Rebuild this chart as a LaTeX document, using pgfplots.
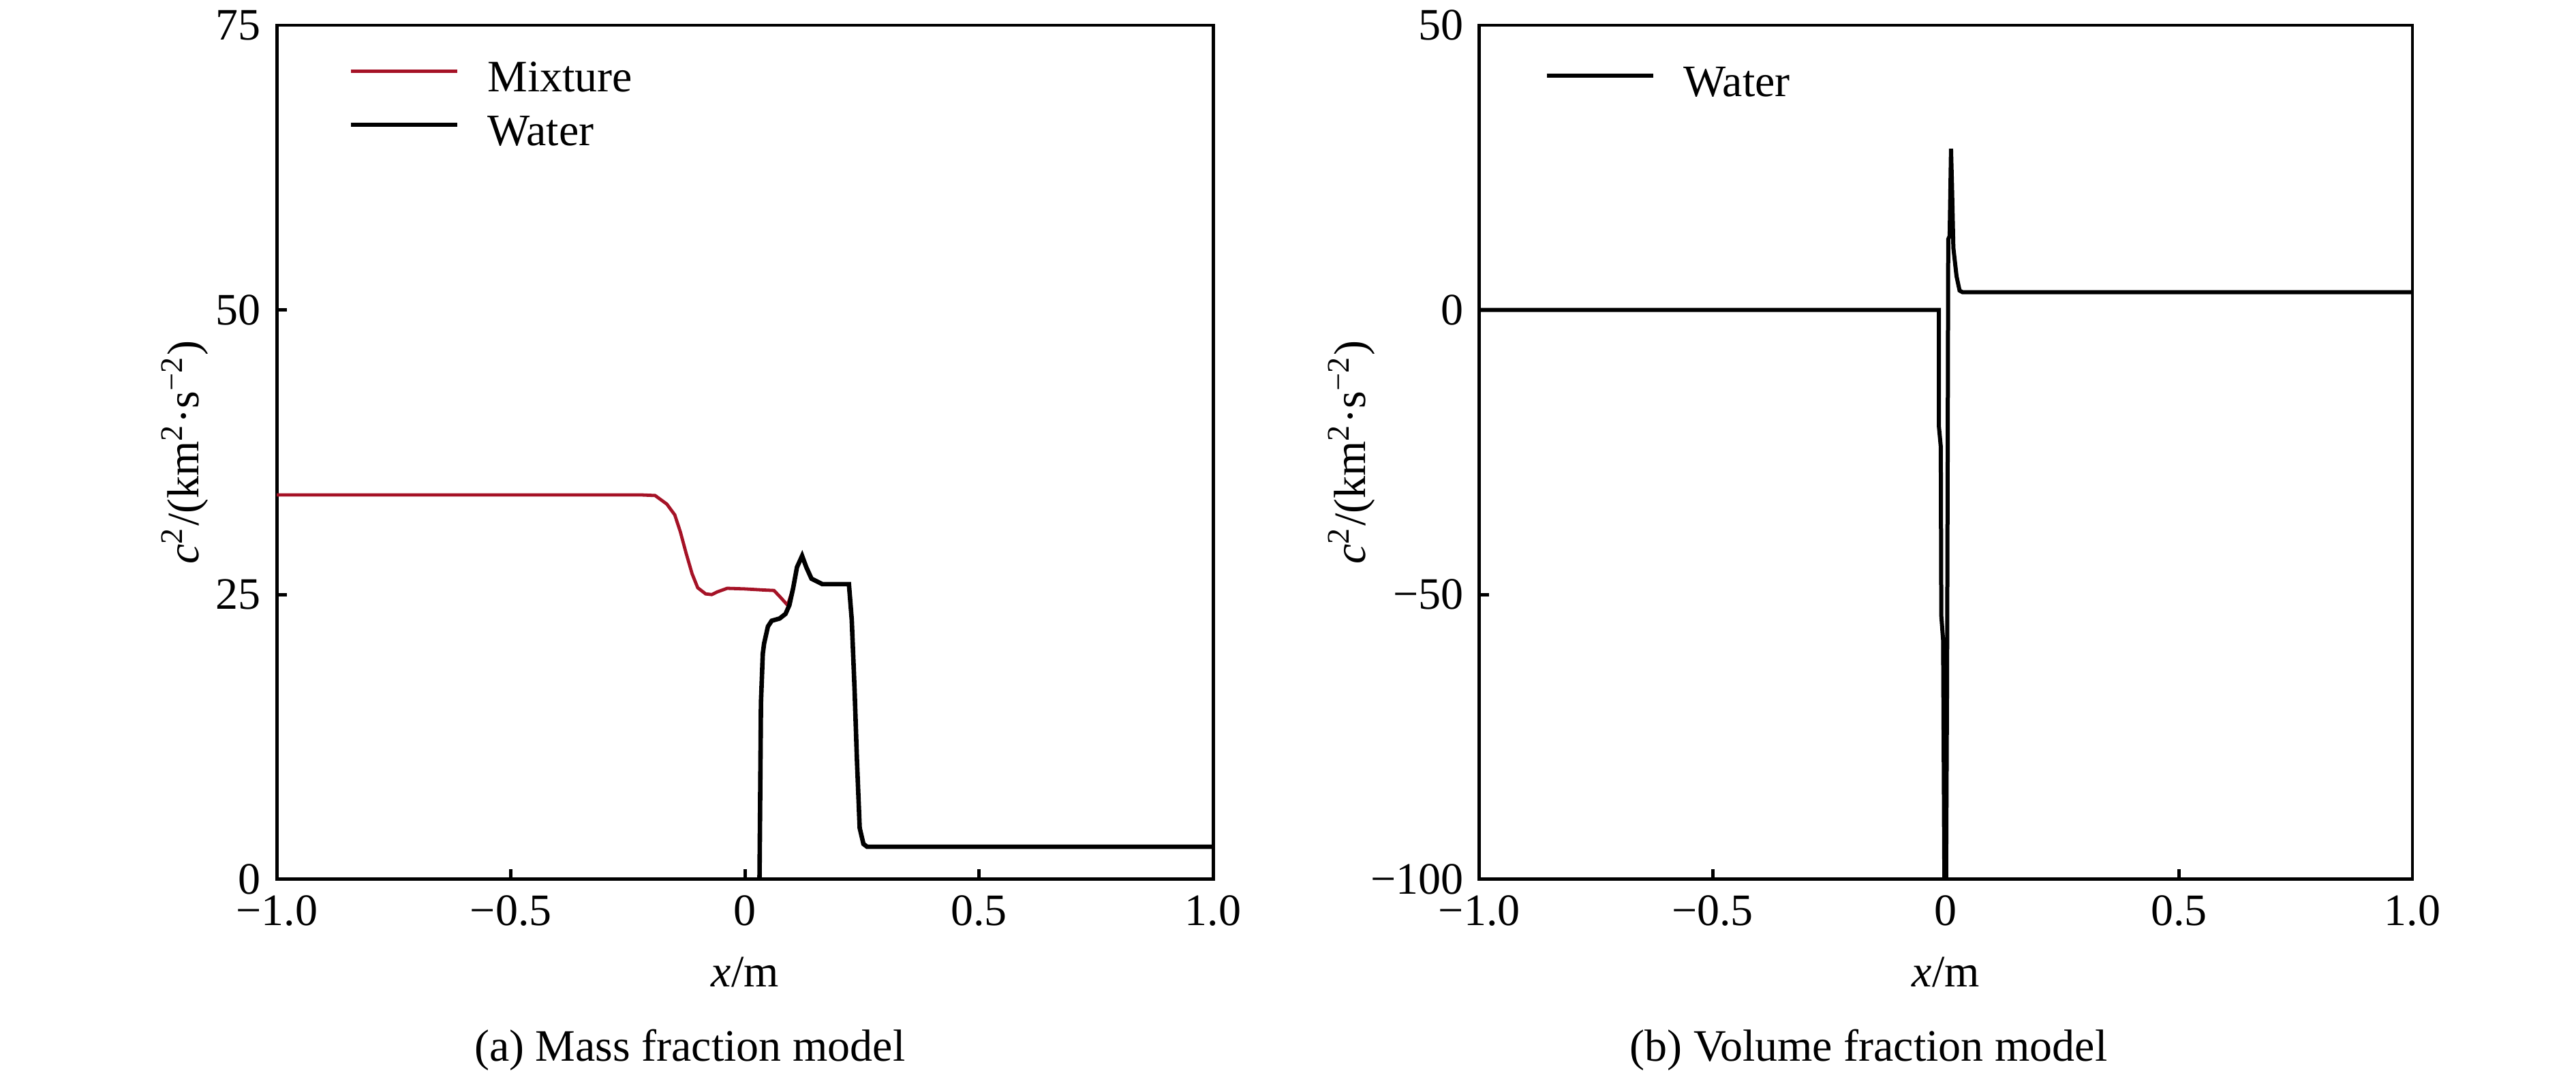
\documentclass[border=0pt]{standalone}
\usepackage{pgfplots}
\pgfplotsset{compat=1.18}
\usepackage{fontspec}
\setmainfont{Liberation Serif}
\definecolor{mixred}{RGB}{165,18,38}

\pgfplotsset{
  panel/.style={
    scale only axis,
    width=229pt, height=208.8pt,
    xmin=-1, xmax=1,
    axis line style={line width=0.8pt},
    tick style={line width=0.8pt, black},
    major tick length=2.4pt,
    tick align=inside,
    xtick pos=bottom, ytick pos=left,
    xtick={-1,-0.5,0,0.5,1},
    xticklabels={−1.0,−0.5,0,0.5,1.0},
    xticklabel style={inner sep=1pt, yshift=-2.7pt},
    yticklabel style={inner sep=1pt, xshift=-2.7pt},
    x label style={at={(axis description cs:0.5,0)}, anchor=base, yshift=-26.2pt},
    xlabel={\textit{x}/m},
    ylabel={\textit{c}\textsuperscript{2}/(km\textsuperscript{2}·s\textsuperscript{−2})},
    legend cell align=left,
    legend style={draw=none, fill=none, inner xsep=0pt, inner ysep=0pt,
      nodes={inner sep=0pt, text height=7.5pt, text depth=3.7pt},
      row sep=0pt, anchor=north west, at={(axis description cs:0,1)}},
    legend image code/.code={%
      \path[draw=none, fill=none] (0pt,-3.7pt) rectangle (33.5pt,7.5pt);
      \draw[#1] (0pt,3.2pt) -- (26pt,3.2pt);},
  }
}

\pgfplotstableread{
x y
-1.000 33.75
-0.220 33.75
-0.192 33.70
-0.167 32.95
-0.150 32.00
-0.138 30.50
-0.126 28.67
-0.113 26.83
-0.101 25.60
-0.084 25.06
-0.071 25.00
-0.059 25.24
-0.038 25.55
-0.001 25.50
0.041 25.40
0.062 25.36
0.074 24.84
0.091 24.07
0.103 25.60
0.111 27.40
0.122 28.40
0.131 27.40
0.142 26.40
0.165 25.92
0.222 25.92
0.228 22.80
0.234 16.73
0.239 10.60
0.245 4.50
0.253 3.10
0.261 2.85
1.000 2.85
}\mixtable

\pgfplotstableread{
x y
0.0300 -2.00
0.0310 0.00
0.0341 15.50
0.0380 19.80
0.0408 20.70
0.0490 22.20
0.0570 22.70
0.0740 22.90
0.0865 23.30
0.0948 24.07
0.1030 25.60
0.1110 27.40
0.1220 28.40
0.1310 27.40
0.1420 26.40
0.1650 25.92
0.2220 25.92
0.2280 22.80
0.2340 16.73
0.2390 10.60
0.2450 4.50
0.2530 3.10
0.2610 2.85
1.0000 2.85
}\watertableA

\pgfplotstableread{
x y
-1.000 0.0
-0.0151 0.0
-0.0151 -20.4
-0.0110 -24.0
-0.0099 -53.7
-0.0060 -58.0
-0.0033 -100.0
0.0005 -100.0
0.0025 -65.0
0.0040 -20.0
0.0050 12.4
0.0080 13.0
0.0110 28.3
0.0130 22.0
0.0160 10.9
0.0228 5.9
0.0293 3.4
0.0359 3.1
1.0000 3.1
}\watertableB

\begin{document}
\begin{tikzpicture}[font=\fontsize{11pt}{13pt}\selectfont]
\path[use as bounding box] (0pt,0pt) rectangle (630pt,262.17pt);

\begin{axis}[panel,
  at={(67.7pt,47.2pt)}, anchor=south west,
  ymin=0, ymax=75,
  ytick={0,25,50,75},
  yticklabels={0,25,50,75},
  y label style={at={(axis description cs:-0.098,0.5)}, anchor=center},
  legend style={xshift=17.3pt, yshift=-6.7pt},
]
\addplot[mixred, line width=0.8pt] table {\mixtable};
\addlegendentry{Mixture}
\addplot[black, line width=1.1pt] table {\watertableA};
\addlegendentry{Water}
\end{axis}

\begin{axis}[panel,
  at={(361.8pt,47.2pt)}, anchor=south west,
  width=228.2pt,
  ymin=-100, ymax=50,
  ytick={-100,-50,0,50},
  yticklabels={−100,−50,0,50},
  y label style={at={(axis description cs:-0.137,0.5)}, anchor=center},
  legend style={xshift=15.8pt, yshift=-7.8pt},
]
\addplot[black, line width=1.0pt] table {\watertableB};
\addlegendentry{Water}
\end{axis}

\node[anchor=base] at (168.7pt,2.8pt) {(a) Mass fraction model};
\node[anchor=base] at (457pt,2.8pt) {(b) Volume fraction model};
\end{tikzpicture}
\end{document}
